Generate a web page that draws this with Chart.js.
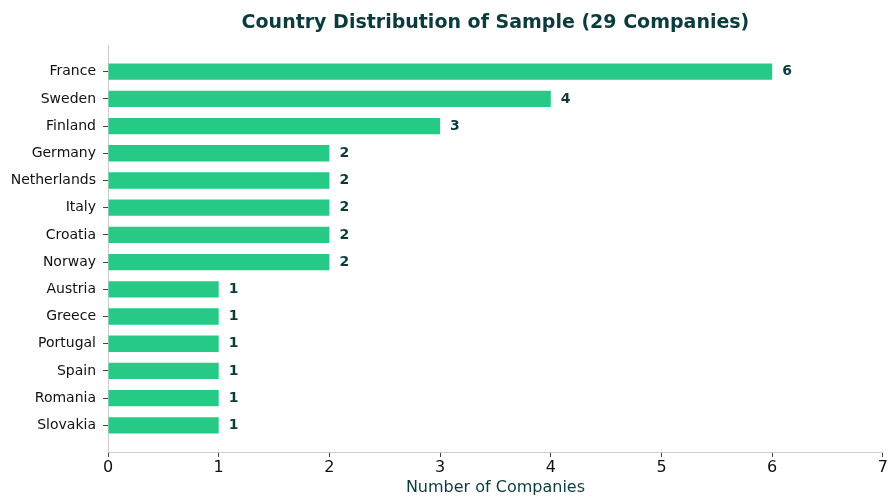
<!DOCTYPE html>
<html>
<head>
<meta charset="utf-8">
<script src="https://cdn.jsdelivr.net/npm/chart.js@4"></script>
<style>
  html, body { margin: 0; padding: 0; background: #fff; }
  #wrap { width: 889px; height: 497px; }
</style>
</head>
<body>
<div id="wrap"><canvas id="myCanvas"></canvas></div>
<script>
const countries = ['France', 'Sweden', 'Finland', 'Germany', 'Netherlands', 'Italy', 'Croatia',
  'Norway', 'Austria', 'Greece', 'Portugal', 'Spain', 'Romania', 'Slovakia']
const companies = [6, 4, 3, 2, 2, 2, 2, 2, 1, 1, 1, 1, 1, 1]
const xTicks = [0, 1, 2, 3, 4, 5, 6, 7]

const titleText = 'Country Distribution of Sample (29 Companies)'
const dark = '#0b3b3c'
const barColor = '#26c985'
const font = "'DejaVu Sans', sans-serif"

document.addEventListener('DOMContentLoaded', () => {
  createBarChart()
})

// title centred over the plot area plus the value labels at bar ends
const extras = {
  id: 'extras',
  afterDatasetsDraw(chart) {
    const ctx = chart.ctx
    const area = chart.chartArea
    ctx.save()
    ctx.fillStyle = dark
    ctx.font = 'bold 19px ' + font
    ctx.textAlign = 'center'
    ctx.textBaseline = 'middle'
    ctx.fillText(titleText, (area.left + area.right) / 2, 23)

    ctx.font = 'bold 14px ' + font
    ctx.textAlign = 'left'
    const meta = chart.getDatasetMeta(0)
    meta.data.forEach((bar, i) => {
      ctx.fillText(String(companies[i]), bar.x + 10, bar.y)
    })
    ctx.restore()
  }
}

function createBarChart() {
  const context = document.getElementById('myCanvas').getContext('2d')

  new Chart(context, {
    type: 'bar',
    data: {
      datasets: [{
        data: companies.map((v, i) => ({ x: v, y: i })),
        backgroundColor: barColor,
        borderWidth: 0,
        categoryPercentage: 0.6,
        barPercentage: 1
      }]
    },
    plugins: [extras],
    options: {
      indexAxis: 'y',
      responsive: true,
      maintainAspectRatio: false,
      animation: false,
      layout: { padding: { left: 0, right: -3, top: 45, bottom: 0 } },
      plugins: {
        legend: { display: false },
        tooltip: { enabled: false }
      },
      scales: {
        x: {
          type: 'linear',
          min: 0,
          max: 7,
          afterBuildTicks: (scale) => { scale.ticks = xTicks.map(v => ({ value: v })) },
          afterFit: (scale) => { scale.height = 45 },
          border: { color: '#cccccc', width: 1 },
          grid: { drawOnChartArea: false, color: '#444', tickLength: 5 },
          ticks: { color: '#111', font: { family: font, size: 16 }, padding: 1 },
          title: {
            display: true,
            text: 'Number of Companies',
            color: dark,
            font: { family: font, size: 16 },
            padding: { top: 2, bottom: 0 }
          }
        },
        y: {
          type: 'linear',
          reverse: true,
          offset: false,
          min: -0.98,
          max: 13.98,
          afterBuildTicks: (scale) => { scale.ticks = countries.map((c, i) => ({ value: i })) },
          afterFit: (scale) => { scale.width = 108 },
          border: { color: '#cccccc', width: 1 },
          grid: { drawOnChartArea: false, offset: false, color: '#444', tickLength: 5 },
          ticks: {
            autoSkip: false,
            color: '#111',
            font: { family: font, size: 14 },
            padding: 7,
            callback: (v) => countries[v]
          }
        }
      }
    }
  })
}
</script>
</body>
</html>
